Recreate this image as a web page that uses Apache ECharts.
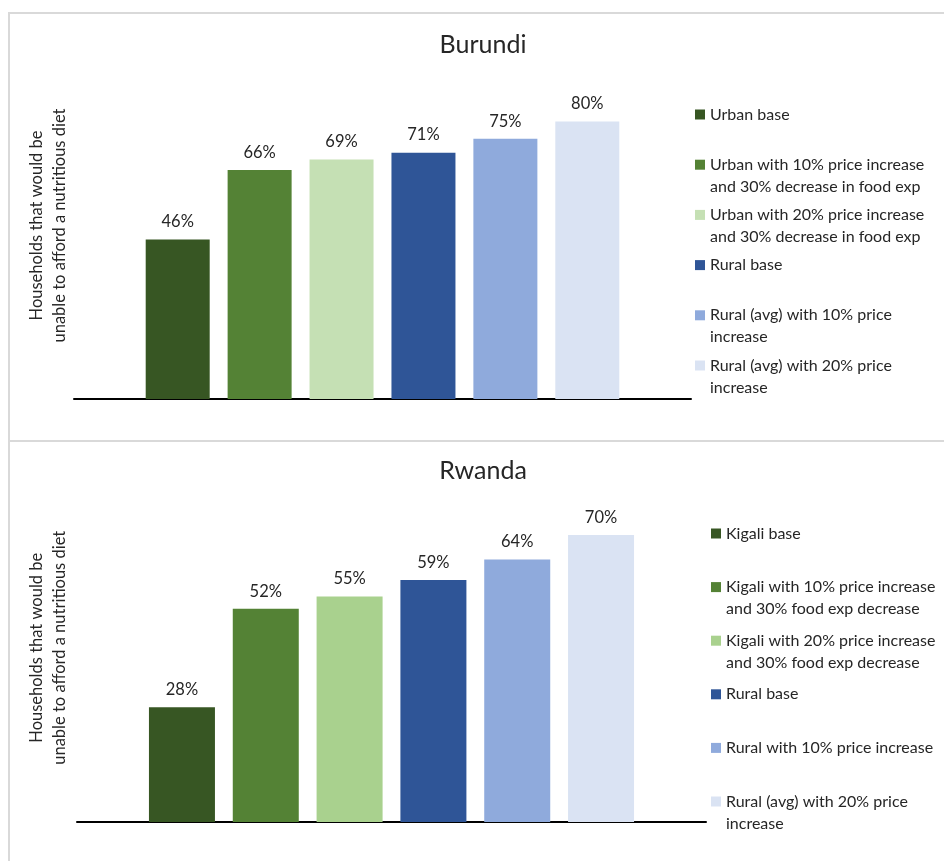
<!DOCTYPE html>
<html>
<head>
<meta charset="utf-8">
<script src="https://cdn.jsdelivr.net/npm/echarts@6/dist/echarts.min.js"></script>
<style>
  html, body { margin: 0; padding: 0; background: #fff; }
  #chart { width: 944px; height: 861px; }
</style>
</head>
<body>
<div id="chart"></div>
<script>
// Share of households unable to afford a nutritious diet, by scenario
const burundiTitle = 'Burundi';
const burundiNames = [
  'Urban base',
  'Urban with 10% price increase\nand 30% decrease in food exp',
  'Urban with 20% price increase\nand 30% decrease in food exp',
  'Rural base',
  'Rural (avg) with 10% price\nincrease',
  'Rural (avg) with 20% price\nincrease'
];
const burundiValues = [0.46, 0.66, 0.69, 0.71, 0.75, 0.80];

const rwandaTitle = 'Rwanda';
const rwandaNames = [
  'Kigali base',
  'Kigali with 10% price increase\nand 30% food exp decrease',
  'Kigali with 20% price increase\nand 30% food exp decrease',
  'Rural base',
  'Rural with 10% price increase',
  'Rural (avg) with 20% price\nincrease'
];
const rwandaValues = [0.28, 0.52, 0.55, 0.59, 0.64, 0.70];

const yAxisTitle = 'Households that would be\nunable to afford a nutritious diet';

const burundiColors = ['#375623', '#548235', '#C5E0B4', '#2F5597', '#8FAADC', '#DAE3F3'];
const rwandaColors  = ['#375623', '#548235', '#A9D18E', '#2F5597', '#8FAADC', '#DAE3F3'];

const FONT = 'Lato, "Open Sans", sans-serif';
const TEXT = '#262626';

function pct(v) { return Math.round(v * 100) + '%'; }

function barSeries(names, values, colors, idx, barWidth, barGap) {
  return names.map((name, i) => ({
    type: 'bar',
    name: name,
    xAxisIndex: idx,
    yAxisIndex: idx,
    data: [values[i]],
    barWidth: barWidth,
    barGap: barGap,
    itemStyle: { color: colors[i] },
    label: {
      show: true,
      position: 'top',
      distance: 9,
      fontFamily: FONT,
      fontSize: 16.5,
      color: TEXT,
      formatter: p => pct(p.value)
    },
    emphasis: { disabled: true }
  }));
}

// One legend block per entry so each row sits in its own fixed slot.
// Wrapped entries get an empty leading line so that, with the text block
// centred on the swatch, the swatch lines up with the first text line.
function legendBlocks(names, left, firstCenter, step) {
  return names.map((name, i) => {
    const twoLines = name.indexOf('\n') >= 0;
    const center = firstCenter + i * step;
    return {
      data: [name],
      orient: 'vertical',
      left: left,
      top: twoLines ? center - 33 : center - 11,
      padding: 0,
      itemWidth: 10,
      itemHeight: 10,
      icon: 'rect',
      selectedMode: false,
      formatter: n => (twoLines ? '\n' + n : n),
      textStyle: {
        fontFamily: FONT,
        fontSize: 16,
        lineHeight: 22,
        color: TEXT
      }
    };
  });
}

function xAxisFor(idx) {
  return {
    type: 'category',
    gridIndex: idx,
    data: [''],
    axisLine: { show: true, lineStyle: { color: '#000', width: 2 } },
    axisTick: { show: false },
    axisLabel: { show: false }
  };
}

function yAxisFor(idx, max, gap) {
  return {
    type: 'value',
    gridIndex: idx,
    min: 0,
    max: max,
    axisLine: { show: false },
    axisTick: { show: false },
    axisLabel: { show: false },
    splitLine: { show: false },
    name: yAxisTitle,
    nameLocation: 'middle',
    nameRotate: 90,
    nameGap: gap,
    nameTextStyle: { fontFamily: FONT, fontSize: 16.5, lineHeight: 23, color: TEXT }
  };
}

const chart = echarts.init(document.getElementById('chart'), null, { renderer: 'canvas' });

chart.setOption({
  backgroundColor: '#fff',
  animation: false,
  title: [
    { text: burundiTitle, left: 483, top: 32, textAlign: 'center', padding: 0,
      textStyle: { fontFamily: FONT, fontSize: 25, fontWeight: 'normal', color: TEXT } },
    { text: rwandaTitle, left: 483, top: 458, textAlign: 'center', padding: 0,
      textStyle: { fontFamily: FONT, fontSize: 25, fontWeight: 'normal', color: TEXT } }
  ],
  grid: [
    { left: 74, right: 253, top: 52, bottom: 462 },
    { left: 77, right: 238, top: 473.5, bottom: 39 }
  ],
  xAxis: [xAxisFor(0), xAxisFor(1)],
  yAxis: [yAxisFor(0, 1, 2.5), yAxisFor(1, 0.85, 5.5)],
  legend: [
    ...legendBlocks(burundiNames, 695, 114.5, 50.2),
    ...legendBlocks(rwandaNames, 711, 533.5, 53.6)
  ],
  series: [
    ...barSeries(burundiNames, burundiValues, burundiColors, 0, 64, '28%'),
    ...barSeries(rwandaNames, rwandaValues, rwandaColors, 1, 66, '27%')
  ],
  graphic: [
    { type: 'rect', silent: true, z: -10,
      shape: { x: 9, y: 13, width: 1000, height: 428 },
      style: { fill: 'none', stroke: '#d9d9d9', lineWidth: 2 } },
    { type: 'rect', silent: true, z: -10,
      shape: { x: 9, y: 441, width: 1000, height: 440 },
      style: { fill: 'none', stroke: '#d9d9d9', lineWidth: 2 } }
  ]
});
</script>
</body>
</html>
